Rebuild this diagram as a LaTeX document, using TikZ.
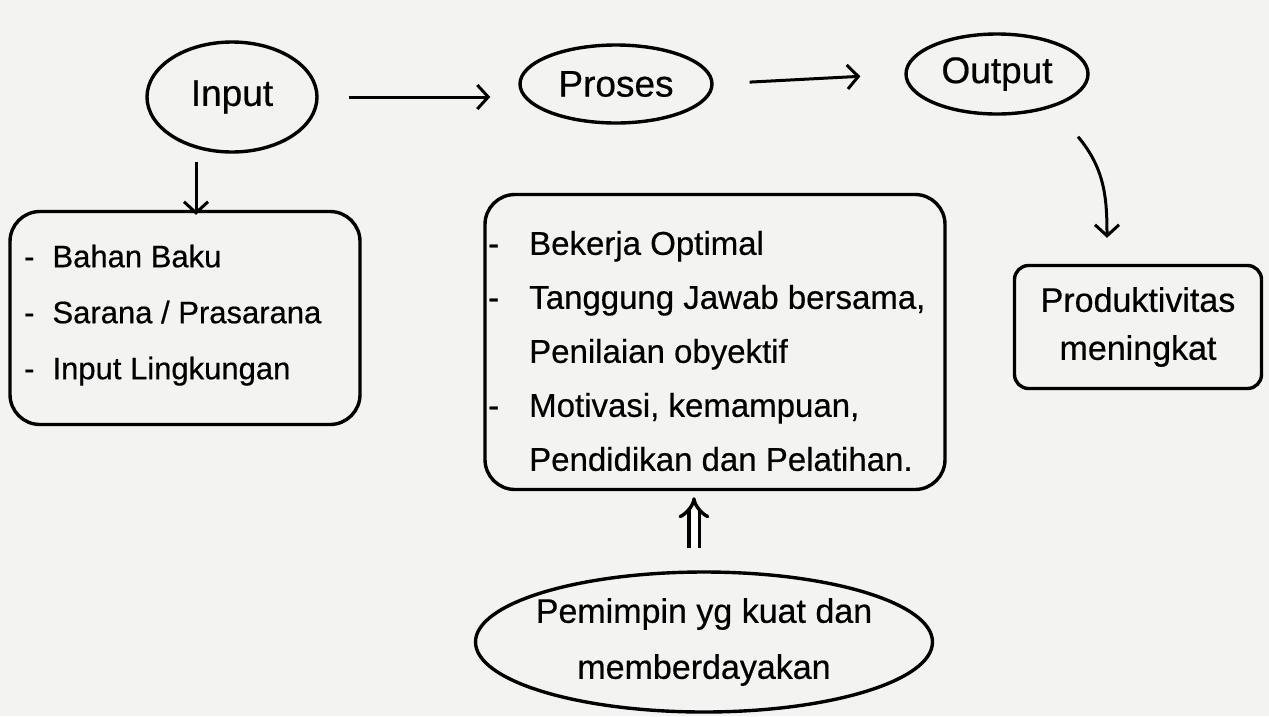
\documentclass[tikz,border=0pt]{standalone}
\usepackage{fontspec}
\setmainfont[FakeBold=0.5]{Liberation Sans}
\usetikzlibrary{arrows.meta,shapes.geometric}
\definecolor{paper}{RGB}{243,243,241}
\begin{document}
\begin{tikzpicture}[x=1pt,y=-1pt,
  ink/.style={line width=3.4pt, draw=black},
  oval/.style={ink, ellipse, inner sep=0pt, font=\fontsize{37}{40}\selectfont},
  card/.style={ink, rounded corners=30pt, inner sep=0pt},
  lbl/.style={font=\fontsize{33}{54}\selectfont, inner sep=0pt},
  arr/.style={line width=3pt, -{Straight Barb[length=11pt,width=24pt,line width=3pt]}},
  dbl/.style={double, double distance=7pt, line width=3.4pt, -{Implies}}]
\fill[paper] (0,0) rectangle (1269,716);
\useasboundingbox (0,0) rectangle (1269,716);
% top ovals
\node[oval, minimum width=170pt, minimum height=110pt] (in) at (232,97) {Input};
\node[oval, minimum width=192pt, minimum height=78pt] (pro) at (616,84) {Proses};
\node[oval, minimum width=182pt, minimum height=80pt] (out) at (997,74) {Output};
% boxes
\node[card, minimum width=350pt, minimum height=213pt] (lb) at (185,318) {};
\node[lbl, anchor=west, font=\fontsize{31}{56}\selectfont] (lbt) at (24,312) {\begin{tabular}{@{}l@{\hspace{18pt}}l@{}}-&Bahan Baku\\-&Sarana / Prasarana\\-&Input Lingkungan\end{tabular}};
\node[card, minimum width=460pt, minimum height=295pt] (mb) at (715,342) {};
\node[lbl, anchor=west] (mbt) at (488,352) {\begin{tabular}{@{}l@{\hspace{30pt}}l@{}}-&Bekerja Optimal\\-&Tanggung Jawab bersama,\\&Penilaian obyektif\\-&Motivasi, kemampuan,\\&Pendidikan dan Pelatihan.\end{tabular}};
\node[card, rounded corners=14pt, minimum width=247pt, minimum height=123pt, align=center, font=\fontsize{34}{48}\selectfont] (rb) at (1138,327) {Produktivitas\\meningkat};
\node[oval, inner xsep=-40pt, inner ysep=-20pt, minimum width=457pt, minimum height=140pt, align=center, font=\fontsize{34}{56}\selectfont] (bot) at (704,642) {Pemimpin yg kuat dan\\memberdayakan};
% connectors
\draw[arr, shorten <=30pt, shorten >=28pt] (in.east) -- (in.east -| pro.west);
\draw[arr, shorten <=36pt, shorten >=44pt] (pro.east) -- (out.west);
\draw[arr, shorten >=-5pt] ([shift={(-36,8)}]in.south) -- ([xshift=-36pt]in.south |- lb.north);
\draw[arr] ([shift={(81,21)}]out.south) to[out=-50,in=90] ([xshift=-31pt,yshift=26pt]rb.north);
\draw[dbl, shorten <=22pt, shorten >=6pt] ([xshift=-10pt]bot.north) -- ([xshift=-10pt]bot.north |- mb.south);
\end{tikzpicture}
\end{document}
